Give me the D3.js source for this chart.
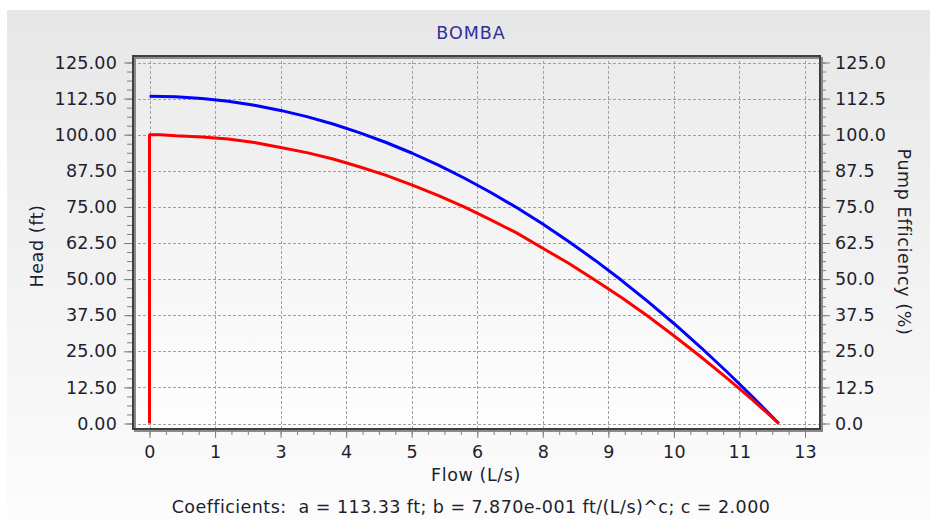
<!DOCTYPE html>
<html>
<head>
<meta charset="utf-8">
<script src="https://cdn.jsdelivr.net/npm/d3@7"></script>
<style>
  html, body { margin: 0; padding: 0; background: #ffffff; }
  svg { display: block; font-family: "DejaVu Sans", Verdana, sans-serif; }
  text { white-space: pre; }
</style>
</head>
<body>
<svg id="chart" width="930" height="519"></svg>
<script>
// ---- data ----
const titleText = "BOMBA";
const xTitle = "Flow (L/s)";
const yLeftTitle = "Head (ft)";
const yRightTitle = "Pump Efficiency (%)";
const coefText = "Coefficients:  a = 113.33 ft; b = 7.870e-001 ft/(L/s)^c; c = 2.000";

const xTicks = [0, 1.25, 2.5, 3.75, 5, 6.25, 7.5, 8.75, 10, 11.25, 12.5];
const xTickLabels = ["0", "1", "3", "4", "5", "6", "8", "9", "10", "11", "13"];
const yTicks = [0, 12.5, 25, 37.5, 50, 62.5, 75, 87.5, 100, 112.5, 125];
const yLeftLabels = ["0.00", "12.50", "25.00", "37.50", "50.00", "62.50", "75.00", "87.50", "100.00", "112.50", "125.00"];
const yRightLabels = ["0.0", "12.5", "25.0", "37.5", "50.0", "62.5", "75.0", "87.5", "100.0", "112.5", "125.0"];

// head curve (blue), flow L/s
const headFlow = [0, 0.5, 1, 1.5, 2, 2.5, 3, 3.5, 4, 4.5, 5, 5.5, 6, 6.5, 7, 7.5, 8, 8.5, 9, 9.5, 10, 10.5, 11, 11.5, 12];
const headValues = [113.33, 113.13, 112.54, 111.56, 110.18, 108.41, 106.25, 103.69, 100.74, 97.39, 93.66, 89.52, 85.00, 80.08, 74.77, 69.06, 62.96, 56.47, 49.58, 42.30, 34.63, 26.57, 18.10, 9.25, 0.0];

// efficiency curve (red)
const effFlow = [0, 0, 0.2, 0.5, 1, 1.5, 2, 2.5, 3, 3.5, 4, 4.5, 5, 5.5, 6, 6.5, 7, 7.5, 8, 8.5, 9, 9.5, 10, 10.5, 11, 11.5, 12];
const effValues = [0, 100, 100, 99.6, 99.2, 98.5, 97.3, 95.6, 93.8, 91.6, 88.9, 86.0, 82.6, 79.0, 75.0, 70.6, 66.0, 60.7, 55.4, 49.6, 43.6, 37.2, 30.4, 23.3, 15.9, 8.2, 0.0];

// ---- drawing ----
const svg = d3.select("#chart");
const defs = svg.append("defs");

const bgGrad = defs.append("linearGradient").attr("id", "bgGrad")
  .attr("x1", 0).attr("y1", 0).attr("x2", 0).attr("y2", 1);
bgGrad.append("stop").attr("offset", "0%").attr("stop-color", "#e7e7e7");
bgGrad.append("stop").attr("offset", "100%").attr("stop-color", "#fcfcfc");

const plotGrad = defs.append("linearGradient").attr("id", "plotGrad")
  .attr("x1", 0).attr("y1", 0).attr("x2", 0).attr("y2", 1);
plotGrad.append("stop").attr("offset", "0%").attr("stop-color", "#ebebeb");
plotGrad.append("stop").attr("offset", "100%").attr("stop-color", "#fefefe");

// outer panel
svg.append("rect").attr("x", 7).attr("y", 10).attr("width", 923).attr("height", 509)
  .attr("fill", "url(#bgGrad)");

const frame = { left: 133, top: 56, right: 820, bottom: 429 };

const x = d3.scaleLinear().domain([0, 12.5]).range([149.5, 805]);
const y = d3.scaleLinear().domain([0, 125]).range([423.5, 62.5]);

// plot background
svg.append("rect")
  .attr("x", frame.left).attr("y", frame.top)
  .attr("width", frame.right - frame.left).attr("height", frame.bottom - frame.top)
  .attr("fill", "url(#plotGrad)");

// grid
const grid = svg.append("g").attr("stroke", "#a0a0a0").attr("stroke-width", 1)
  .attr("stroke-dasharray", "3,2").attr("fill", "none");
grid.selectAll("line.v").data(xTicks).join("line")
  .attr("x1", d => Math.round(x(d)) + 0.5).attr("x2", d => Math.round(x(d)) + 0.5)
  .attr("y1", frame.top).attr("y2", frame.bottom);
grid.selectAll("line.h").data(yTicks).join("line")
  .attr("y1", d => Math.round(y(d)) + 0.5).attr("y2", d => Math.round(y(d)) + 0.5)
  .attr("x1", frame.left).attr("x2", frame.right);

// curves
const line = d3.line().x(d => x(d[0])).y(d => y(d[1]));
svg.append("path")
  .datum(headFlow.map((q, i) => [q, headValues[i]]))
  .attr("d", line).attr("fill", "none").attr("stroke", "#0000ff")
  .attr("stroke-width", 3).attr("stroke-linejoin", "round");
svg.append("path")
  .datum(effFlow.map((q, i) => [q, effValues[i]]))
  .attr("d", line).attr("fill", "none").attr("stroke", "#ff0000")
  .attr("stroke-width", 3).attr("stroke-linejoin", "round");

// frame with shadow
svg.append("rect")
  .attr("x", frame.left + 2).attr("y", frame.top + 2)
  .attr("width", frame.right - frame.left).attr("height", frame.bottom - frame.top)
  .attr("fill", "none").attr("stroke", "#8a8a8a").attr("stroke-width", 2);
svg.append("rect")
  .attr("x", frame.left).attr("y", frame.top)
  .attr("width", frame.right - frame.left).attr("height", frame.bottom - frame.top)
  .attr("fill", "none").attr("stroke", "#404040").attr("stroke-width", 2);

const tickColor = "#808080";
const labelColor = "#1e1e2e";
const fontSize = "17.5px";

function styleAxis(g) {
  g.select(".domain").remove();
  g.selectAll(".tick line").attr("stroke", tickColor);
  g.selectAll(".tick text").attr("fill", labelColor).style("font-size", fontSize)
    .style("letter-spacing", "0.2px")
    .style("font-family", "'DejaVu Sans', Verdana, sans-serif");
}

// minor ticks
const xMinor = d3.range(0, 12.5 + 1e-9, 0.3125);
const yMinor = d3.range(0, 125 + 1e-9, 3.125);

svg.append("g").attr("transform", `translate(0,${frame.bottom + 2})`)
  .call(d3.axisBottom(x).tickValues(xMinor).tickSize(4).tickFormat(""))
  .call(styleAxis);
svg.append("g").attr("transform", `translate(${frame.left - 1},0)`)
  .call(d3.axisLeft(y).tickValues(yMinor).tickSize(5).tickFormat(""))
  .call(styleAxis);
svg.append("g").attr("transform", `translate(${frame.right + 2},0)`)
  .call(d3.axisRight(y).tickValues(yMinor).tickSize(4).tickFormat(""))
  .call(styleAxis);

// major ticks with labels
svg.append("g").attr("transform", `translate(0,${frame.bottom + 2})`)
  .call(d3.axisBottom(x).tickValues(xTicks).tickSize(7).tickPadding(8)
    .tickFormat((d, i) => xTickLabels[i]))
  .call(styleAxis);
svg.append("g").attr("transform", `translate(${frame.left - 1},0)`)
  .call(d3.axisLeft(y).tickValues(yTicks).tickSize(8).tickPadding(7)
    .tickFormat((d, i) => yLeftLabels[i]))
  .call(styleAxis);
svg.append("g").attr("transform", `translate(${frame.right + 2},0)`)
  .call(d3.axisRight(y).tickValues(yTicks).tickSize(8).tickPadding(5)
    .tickFormat((d, i) => yRightLabels[i]))
  .call(styleAxis);

// titles
svg.append("text").attr("x", 471).attr("y", 39).attr("text-anchor", "middle")
  .attr("fill", "#30309a").style("font-size", "17.5px").style("letter-spacing", "1px")
  .text(titleText);

svg.append("text").attr("x", 476).attr("y", 481).attr("text-anchor", "middle")
  .attr("fill", "#1e1e2e").style("font-size", fontSize).style("letter-spacing", "0.6px")
  .text(xTitle);

svg.append("text").attr("transform", "translate(43,246) rotate(-90)")
  .attr("text-anchor", "middle").attr("fill", "#1e1e2e").style("font-size", fontSize)
  .style("letter-spacing", "0.6px").text(yLeftTitle);

svg.append("text").attr("transform", "translate(898,242) rotate(90)")
  .attr("text-anchor", "middle").attr("fill", "#1e1e2e").style("font-size", fontSize)
  .style("letter-spacing", "0.6px").text(yRightTitle);

svg.append("text").attr("x", 471).attr("y", 513).attr("text-anchor", "middle")
  .attr("fill", "#1e1e2e").style("font-size", fontSize).style("letter-spacing", "0.45px")
  .text(coefText);
</script>
</body>
</html>
